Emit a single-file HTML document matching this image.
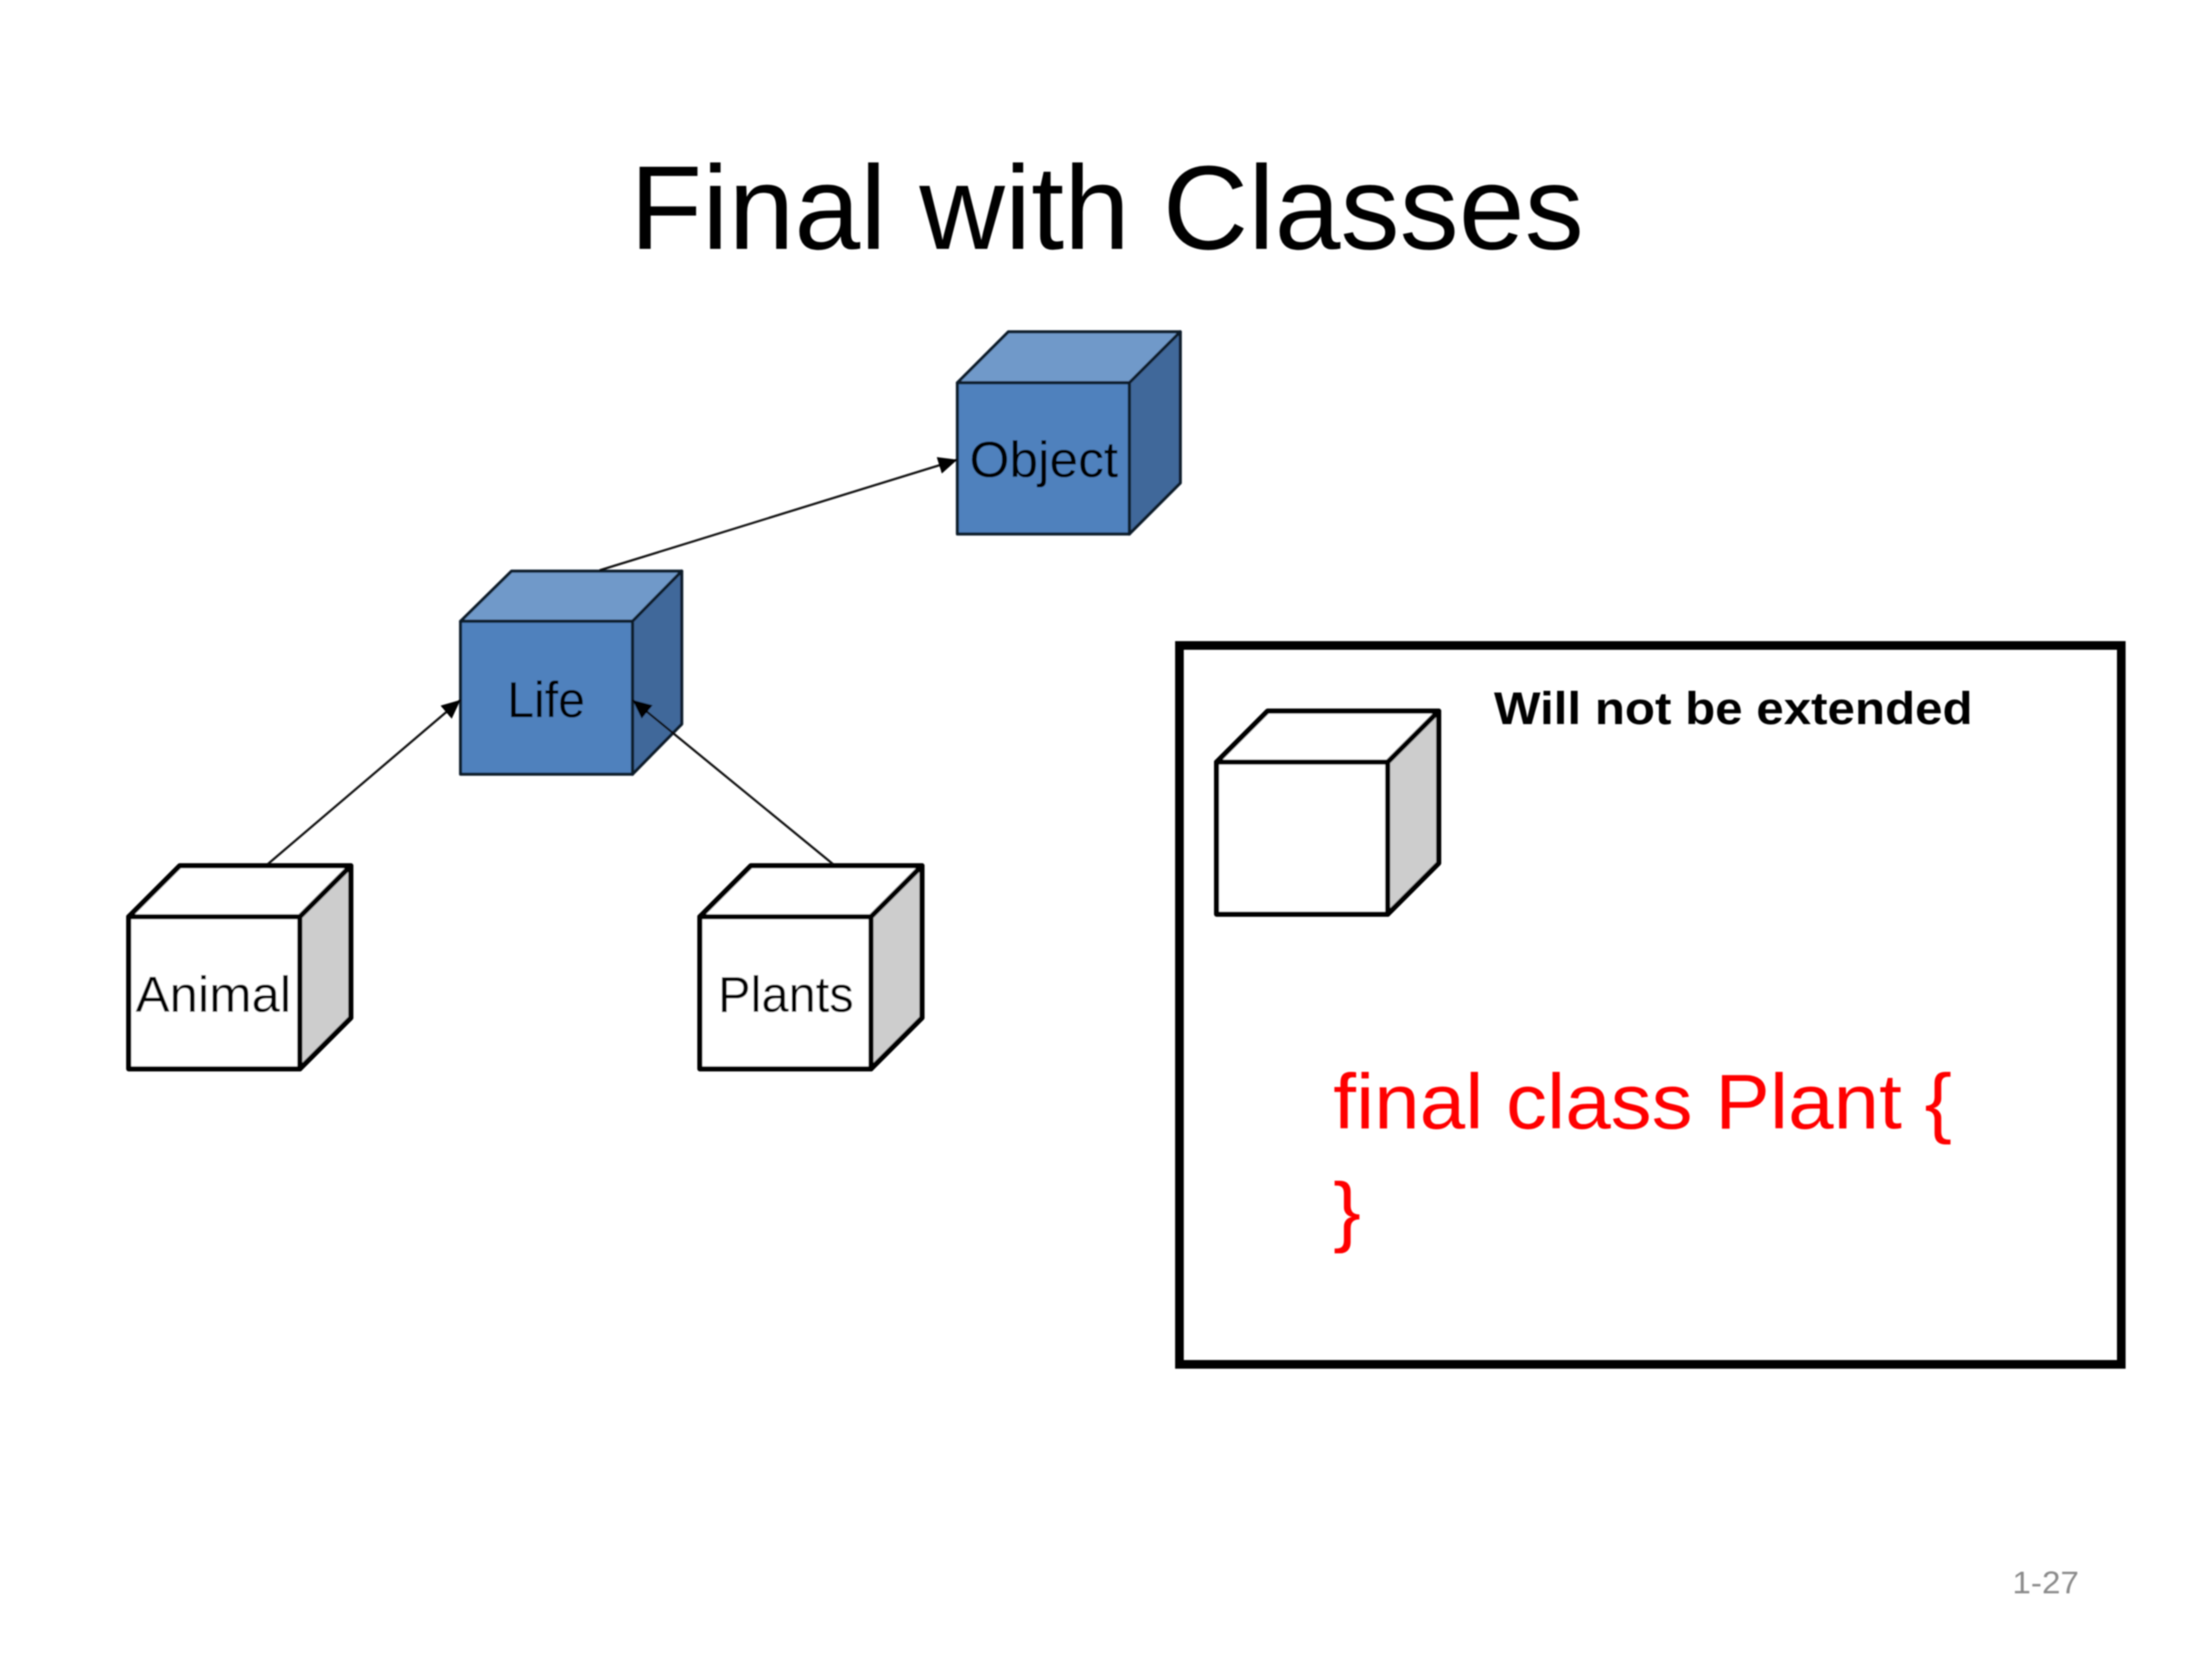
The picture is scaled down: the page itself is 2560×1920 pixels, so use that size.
<!DOCTYPE html>
<html lang="en">
<head>
<meta charset="utf-8">
<title>Final with Classes</title>
<style>
html,body{margin:0;padding:0;background:#fff;width:2560px;height:1920px;overflow:hidden}
svg{display:block}
text{font-family:"Liberation Sans",sans-serif}
</style>
</head>
<body>
<svg xmlns="http://www.w3.org/2000/svg" width="2560" height="1920" viewBox="0 0 2560 1920">
<defs>
<marker id="a" markerUnits="userSpaceOnUse" markerWidth="24" markerHeight="20" refX="22" refY="10" orient="auto">
<path d="M0 0L22 10L0 20Z" fill="#000"/>
</marker>
<filter id="s" filterUnits="userSpaceOnUse" x="0" y="0" width="2560" height="1920"><feGaussianBlur stdDeviation="0.7"/></filter>
</defs>
<rect width="2560" height="1920" fill="#fff"/>
<g filter="url(#s)">
<text x="729" y="288" font-size="138" fill="#000" textLength="1104" lengthAdjust="spacingAndGlyphs">Final with Classes</text>

<!-- Object -->
<g stroke="#0d1a2b" stroke-width="3.5" stroke-linejoin="round">
<path d="M1108 443L1167 384H1366L1307 443Z" fill="#7099c9"/>
<path d="M1307 443L1366 384V559L1307 618Z" fill="#41689a"/>
<rect x="1108" y="443" width="199" height="175" fill="#4f81bd"/>
</g>
<!-- Life -->
<g stroke="#0d1a2b" stroke-width="3.5" stroke-linejoin="round">
<path d="M533 719L592 661H789L732 719Z" fill="#7099c9"/>
<path d="M732 719L789 661V838L732 896Z" fill="#41689a"/>
<rect x="533" y="719" width="199" height="177" fill="#4f81bd"/>
</g>
<!-- Animal -->
<g stroke="#000" stroke-width="6" stroke-linejoin="round">
<path d="M149 1061L208 1002H406L347 1061Z" fill="#fff"/>
<path d="M347 1061L406 1002V1178L347 1237Z" fill="#cdcdcd"/>
<rect x="149" y="1061" width="198" height="176" fill="#fff"/>
</g>
<!-- Plants -->
<g stroke="#000" stroke-width="6" stroke-linejoin="round">
<path d="M810 1061L869 1002H1067L1008 1061Z" fill="#fff"/>
<path d="M1008 1061L1067 1002V1178L1008 1237Z" fill="#cdcdcd"/>
<rect x="810" y="1061" width="198" height="176" fill="#fff"/>
</g>

<!-- Connectors -->
<g stroke="#111" stroke-width="2.5" fill="none">
<line x1="694" y1="660" x2="1108" y2="532" marker-end="url(#a)"/>
<line x1="310" y1="1000" x2="533" y2="810" marker-end="url(#a)"/>
<line x1="964" y1="1000" x2="732" y2="810" marker-end="url(#a)"/>
</g>

<text x="1122" y="552" font-size="58" fill="#000" textLength="172" lengthAdjust="spacingAndGlyphs">Object</text>
<text x="587" y="830" font-size="58" fill="#000" textLength="90" lengthAdjust="spacingAndGlyphs">Life</text>
<text x="157" y="1171" font-size="58" fill="#000" textLength="180" lengthAdjust="spacingAndGlyphs">Animal</text>
<text x="831" y="1171" font-size="58" fill="#000" textLength="157" lengthAdjust="spacingAndGlyphs">Plants</text>

<!-- Legend box -->
<rect x="1365" y="747" width="1090" height="832" fill="none" stroke="#000" stroke-width="10"/>
<g stroke="#000" stroke-width="6" stroke-linejoin="round">
<path d="M1408 882L1467 823H1665L1606 882Z" fill="#fff"/>
<path d="M1606 882L1665 823V999L1606 1058Z" fill="#cdcdcd"/>
<rect x="1408" y="882" width="198" height="176" fill="#fff"/>
</g>
<text x="1729" y="838" font-size="53" font-weight="bold" fill="#000" textLength="554" lengthAdjust="spacingAndGlyphs">Will not be extended</text>
<text x="1543" y="1306" font-size="90" fill="#ff0000" textLength="716" lengthAdjust="spacingAndGlyphs">final class Plant {</text>
<text x="1543" y="1432" font-size="90" fill="#ff0000" textLength="32" lengthAdjust="spacingAndGlyphs">}</text>

<text x="2329" y="1844" font-size="36" fill="#8b8b8b" textLength="77" lengthAdjust="spacingAndGlyphs">1-27</text>
</g>
</svg>
</body>
</html>
